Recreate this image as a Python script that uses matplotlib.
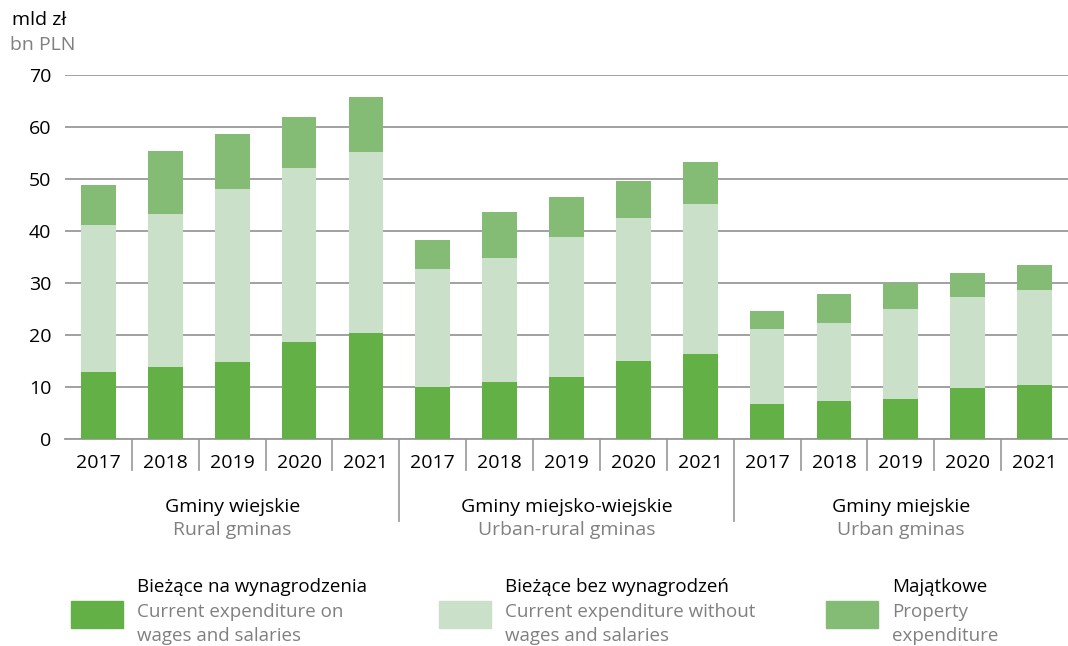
"""Budget expenditure of gminas by type, 2017-2021 (stacked bars)."""

import matplotlib.pyplot as plt
import matplotlib.transforms as mtransforms
import numpy as np
from matplotlib.patches import Rectangle

plt.rcParams["font.family"] = ["Open Sans", "DejaVu Sans"]

years = ["2017", "2018", "2019", "2020", "2021"]
groups_pl = ["Gminy wiejskie", "Gminy miejsko-wiejskie", "Gminy miejskie"]
groups_en = ["Rural gminas", "Urban-rural gminas", "Urban gminas"]

# bn PLN, per group in year order
wages = [12.9, 13.8, 14.8, 18.7, 20.4,
         10.0, 11.0, 11.9, 15.0, 16.3,
         6.7, 7.3, 7.7, 9.8, 10.4]
current_other = [28.3, 29.5, 33.3, 33.4, 34.8,
                 22.7, 23.8, 26.9, 27.5, 28.9,
                 14.5, 15.0, 17.3, 17.5, 18.3]
property_exp = [7.6, 12.1, 10.6, 9.8, 10.6,
                5.6, 8.9, 7.7, 7.1, 8.1,
                3.4, 5.6, 5.0, 4.6, 4.8]

legend_pl = ["Bieżące na wynagrodzenia", "Bieżące bez wynagrodzeń", "Majątkowe"]
legend_en = ["Current expenditure on\nwages and salaries",
             "Current expenditure without\nwages and salaries",
             "Property\nexpenditure"]
colors = ["#63b146", "#cae0c8", "#85bc75"]
grey = "#808080"

fig = plt.figure(figsize=(10.68, 6.46), dpi=100)
ax = fig.add_axes([65 / 1068, 1 - 439 / 646, 1003 / 1068, 364 / 646])

x = np.arange(len(wages))
w1 = np.array(wages)
w2 = np.array(current_other)
w3 = np.array(property_exp)
bw = 0.52
ax.bar(x, w1, bw, color=colors[0], zorder=3)
ax.bar(x, w2, bw, bottom=w1, color=colors[1], zorder=3)
ax.bar(x, w3, bw, bottom=w1 + w2, color=colors[2], zorder=3)

ax.set_xlim(-0.5, len(wages) - 0.5)
ax.set_ylim(0, 70)
ax.set_yticks(range(0, 71, 10))
ax.yaxis.grid(True, color="#9a9a9a", lw=1.3, zorder=0)
ax.tick_params(axis="y", length=0, pad=10, labelsize=14)
ax.tick_params(axis="x", length=0, pad=11, labelsize=14)
ax.set_xticks(x)
ax.set_xticklabels(years * len(groups_pl))
for s in ["top", "right", "left"]:
    ax.spines[s].set_visible(False)
ax.spines["bottom"].set_color("#9a9a9a")
ax.spines["bottom"].set_linewidth(1.3)

# separators below the axis
trans = mtransforms.blended_transform_factory(ax.transData, ax.transAxes)
n_years = len(years)
for i in range(1, len(wages)):
    is_group = i % n_years == 0
    y_end = -0.225 if is_group else -0.085
    ax.plot([i - 0.5, i - 0.5], [0, y_end], color="#a0a0a0", lw=1.3,
            transform=trans, clip_on=False)

for g, (pl, en) in enumerate(zip(groups_pl, groups_en)):
    cx = g * n_years + (n_years - 1) / 2
    ax.text(cx, -0.187, pl, transform=trans, ha="center", va="center", fontsize=14)
    ax.text(cx, -0.25, en, transform=trans, ha="center", va="center",
            fontsize=14, color=grey)

fig.text(12 / 1068, 1 - 20 / 646, "mld zł", fontsize=14, va="center")
fig.text(10 / 1068, 1 - 45 / 646, "bn PLN", fontsize=14, va="center", color=grey)

# legend
legend_x = [71, 439, 826]
for lx, col, pl, en in zip(legend_x, colors, legend_pl, legend_en):
    fig.patches.append(Rectangle((lx / 1068, 1 - 628 / 646), 52 / 1068, 27 / 646,
                                 transform=fig.transFigure, color=col))
    fig.text((lx + 66) / 1068, 1 - 587 / 646, pl, fontsize=13.5, va="center")
    fig.text((lx + 66) / 1068, 1 - 624 / 646, en, fontsize=13.5, va="center",
             color=grey, linespacing=1.38)

fig.savefig("out.png", dpi=100)
